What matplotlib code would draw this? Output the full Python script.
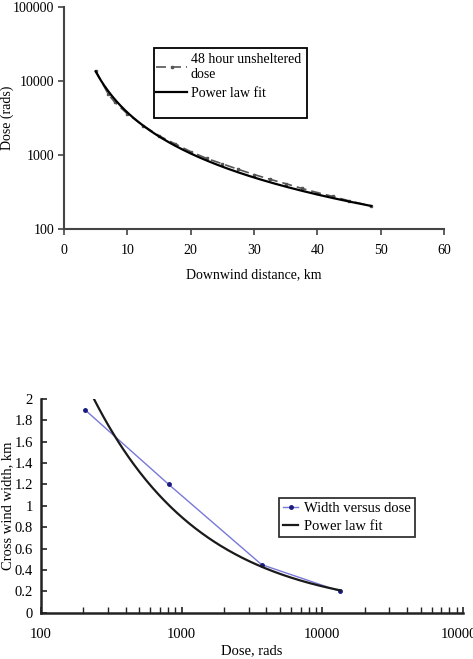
import numpy as np
import matplotlib
matplotlib.use("Agg")
import matplotlib.pyplot as plt
from matplotlib.ticker import FixedLocator, NullLocator
from matplotlib.patches import Rectangle

plt.rcParams['font.family'] = ['Liberation Serif', 'DejaVu Serif']

# ---- top chart data ----
dist_km = [5, 7, 8, 10, 12.5, 15, 17.5, 20, 22.5, 25, 27.5, 30, 32.5, 35, 37.5, 40, 42.5, 45, 48.5]
dose_48h = [13800, 6600, 5200, 3600, 2500, 1820, 1420, 1110, 900, 760, 640, 545, 470, 410, 355, 310, 275, 240, 205]
fit1_a, fit1_b = 13500.0, -1.843   # dose = a * (x/5)^b
fit1_xrange = (5.0, 48.5)

# ---- bottom chart data ----
dose_rads = [205, 810, 3700, 13400]
width_km = [1.9, 1.2, 0.45, 0.2]
fit2_a, fit2_b, fit2_x0 = 2.0, -0.56, 238.0   # width = a * (D/x0)^b
fit2_xrange = (238.0, 13400.0)

W, H = 473, 659
fig = plt.figure(figsize=(W / 100, H / 100), dpi=100)

# ---------------- top ----------------
ax1 = fig.add_axes([64 / W, 1 - 229 / H, 380 / W, 222 / H])
ax1.plot(dist_km, dose_48h, color='#555555', lw=1.2, ls=(0, (6, 3)), marker='s', ms=2.0,
         label='48 hour unsheltered\ndose')
xf = np.linspace(*fit1_xrange, 200)
ax1.plot(xf, fit1_a * (xf / 5.0) ** fit1_b, color='black', lw=1.6, label='Power law fit')
ax1.set_yscale('log')
ax1.set_xlim(0, 60)
ax1.set_ylim(100, 100000)
ax1.yaxis.set_major_locator(FixedLocator([100, 1000, 10000, 100000]))
ax1.yaxis.set_minor_locator(NullLocator())
ax1.set_yticklabels(['100', '1000', '10000', '100000'])
ax1.set_xticks([0, 10, 20, 30, 40, 50, 60])
for s in ['top', 'right']:
    ax1.spines[s].set_visible(False)
for s in ['left', 'bottom']:
    ax1.spines[s].set_color('#444444')
    ax1.spines[s].set_linewidth(1.5)
ax1.tick_params(axis='both', labelsize=10, length=4, width=1.2, color='#444444', direction='out')
ax1.tick_params(axis='x', pad=7)
ax1.tick_params(axis='y', pad=3)
ax1.set_xlabel('Downwind distance, km', fontsize=10, labelpad=8)
ax1.set_ylabel('Dose (rads)', fontsize=10)
ax1.yaxis.set_label_coords(-50 / 380, 0.5)
ax1.add_patch(Rectangle((0.237, 0.50), 0.402, 0.315, transform=ax1.transAxes, fill=False,
                        edgecolor='black', lw=1.3, zorder=5))
ax1.legend(loc='upper left', bbox_to_anchor=(0.23, 0.815), borderaxespad=0, fontsize=10,
           frameon=False, handlelength=2.2, borderpad=0.35, labelspacing=0.45, handletextpad=0.3)

# ---------------- bottom ----------------
ax2 = fig.add_axes([41 / W, 1 - 612.7 / H, 422 / W, 213.7 / H])
ax2.plot(dose_rads, width_km, color='#7878d8', lw=1.0, marker='o', ms=2.5,
         mfc='#1a1a80', mec='#1a1a80', label='Width versus dose')
xf2 = np.geomspace(*fit2_xrange, 200)
ax2.plot(xf2, fit2_a * (xf2 / fit2_x0) ** fit2_b, color='#1a1a1a', lw=1.6, label='Power law fit')
ax2.set_xscale('log')
ax2.set_xlim(100, 100000)
ax2.set_ylim(0, 2)
ax2.xaxis.set_major_locator(FixedLocator([100, 1000, 10000, 100000]))
ax2.set_xticklabels(['100', '1000', '10000', '100000'])
ax2.set_yticks(np.arange(0, 2.01, 0.2))
ax2.set_yticklabels(['0', '0.2', '0.4', '0.6', '0.8', '1', '1.2', '1.4', '1.6', '1.8', '2'])
for s in ['top', 'right']:
    ax2.spines[s].set_visible(False)
for s in ['left', 'bottom']:
    ax2.spines[s].set_color('#222222')
    ax2.spines[s].set_linewidth(1.8)
ax2.tick_params(axis='both', which='major', labelsize=10.5, length=4, width=1.2, color='#222222',
                direction='in')
ax2.tick_params(axis='x', which='minor', length=4, width=1.0, color='#222222', direction='in')
ax2.tick_params(axis='x', which='major', pad=11)
ax2.tick_params(axis='y', which='major', pad=6)
ax2.set_xlabel('Dose, rads', fontsize=10.5, labelpad=2)
ax2.set_ylabel('Cross wind width, km', fontsize=10.5, labelpad=0)
leg2 = ax2.legend(loc='upper left', bbox_to_anchor=(0.564, 0.538), borderaxespad=0, fontsize=10.5,
                  frameon=True, fancybox=False, edgecolor='black', handlelength=1.0, borderpad=0.3,
                  labelspacing=0.3, handletextpad=0.4)
leg2.get_frame().set_linewidth(1.3)

fig.savefig('out.png', dpi=100)
